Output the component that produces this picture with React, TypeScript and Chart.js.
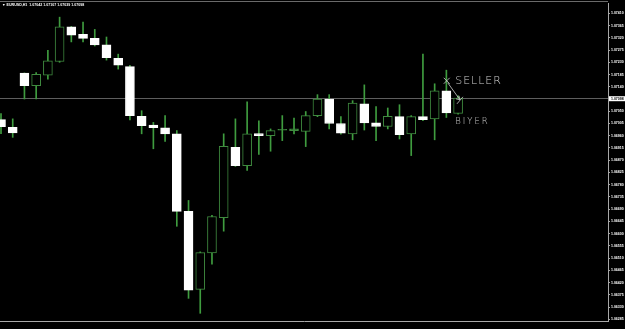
import React, { useEffect, useRef } from "react";
import { Chart, registerables } from "chart.js";

Chart.register(...registerables);

const symbolTitle = "EURUSD,H1";

// Hourly bars: 27 Jan 22:00 ... 31 Jan 13:00 (2017)
const opens = [
  1.07019, 1.06991, 1.0719, 1.07144, 1.07183, 1.07233, 1.0736, 1.07333, 1.07318, 1.07294,
  1.07245, 1.07214, 1.07031, 1.06999, 1.06989, 1.06967, 1.06682, 1.06395, 1.06529, 1.06659,
  1.06917, 1.0685, 1.06968, 1.0696, 1.0698, 1.06979, 1.06976, 1.07034, 1.07095, 1.07005,
  1.06967, 1.07077, 1.07007, 1.06994, 1.0703, 1.06967, 1.0703, 1.07022, 1.07125, 1.07042,
];
const highs = [
  1.07041, 1.07022, 1.07191, 1.07192, 1.07274, 1.07396, 1.07362, 1.07378, 1.07351, 1.07323,
  1.0726, 1.07219, 1.07052, 1.07009, 1.07034, 1.06979, 1.06722, 1.06533, 1.06667, 1.06967,
  1.07022, 1.07085, 1.07015, 1.06985, 1.07034, 1.07025, 1.07049, 1.07111, 1.07111, 1.0703,
  1.07089, 1.07147, 1.07067, 1.07062, 1.07074, 1.07034, 1.0726, 1.07151, 1.07201, 1.07107,
];
const lows = [
  1.06968, 1.06954, 1.07095, 1.07095, 1.07168, 1.0723, 1.07305, 1.07305, 1.0729, 1.07238,
  1.07205, 1.07018, 1.06967, 1.06912, 1.06939, 1.06627, 1.06362, 1.06307, 1.06488, 1.06609,
  1.06847, 1.06832, 1.06891, 1.06903, 1.06942, 1.06967, 1.0692, 1.0703, 1.06985, 1.06966,
  1.06945, 1.06981, 1.06942, 1.06985, 1.06948, 1.06887, 1.07015, 1.06945, 1.07027, 1.07039,
];
const closes = [
  1.06993, 1.0697, 1.07144, 1.07186, 1.07235, 1.0736, 1.0733, 1.07318, 1.07294, 1.07247,
  1.07219, 1.07034, 1.06997, 1.0699, 1.06967, 1.06682, 1.06392, 1.0653, 1.06663, 1.06921,
  1.0685, 1.06967, 1.0696, 1.06979, 1.06981, 1.06985, 1.07034, 1.07095, 1.07005, 1.06969,
  1.0708, 1.07007, 1.06994, 1.07031, 1.06964, 1.0703, 1.07019, 1.07125, 1.07044, 1.07098,
];

// one label every two bars, starting at the first bar
const xTickLabels = [
  "27 Jan 2017", "30 Jan 00:00", "30 Jan 02:00", "30 Jan 04:00", "30 Jan 06:00",
  "30 Jan 08:00", "30 Jan 10:00", "30 Jan 12:00", "30 Jan 14:00", "30 Jan 16:00",
  "30 Jan 18:00", "30 Jan 20:00", "30 Jan 22:00", "31 Jan 00:00", "31 Jan 02:00",
  "31 Jan 04:00", "31 Jan 06:00", "31 Jan 08:00", "31 Jan 10:00", "31 Jan 12:00",
];

const yTickLabels = [
  "1.07410", "1.07365", "1.07320", "1.07275", "1.07230", "1.07185", "1.07140", "1.07095",
  "1.07050", "1.07005", "1.06960", "1.06915", "1.06870", "1.06825", "1.06780", "1.06735",
  "1.06690", "1.06645", "1.06600", "1.06555", "1.06510", "1.06465", "1.06420", "1.06375",
  "1.06330", "1.06285",
];

const WICK = "#3f9c3f";
const BULL_EDGE = "#3f8a3f";
const AXIS = "#a8a8a8";
const TEXT = "#ffffff";

export default function App() {
  const ref = useRef<HTMLCanvasElement | null>(null);

  useEffect(() => {
    if (!ref.current) return;
    const n = opens.length;
    const last = n - 1;
    const bid = closes[last];
    const header =
      "\u25BC " + symbolTitle + "  " +
      [opens[last], highs[last], lows[last], closes[last]].map((v) => v.toFixed(5)).join(" ");

    const isBull = (i: number) => closes[i] >= opens[i];
    const bodyFill = opens.map((o, i) =>
      isBull(i) ? (Math.abs(closes[i] - o) < 0.00008 ? BULL_EDGE : "#000000") : "#ffffff"
    );
    const bodyEdge = opens.map((_, i) => (isBull(i) ? BULL_EDGE : "#ffffff"));

    const decor = {
      id: "mt4decor",
      beforeDraw(chart: any) {
        const c = chart.ctx;
        c.save();
        c.fillStyle = "#000000";
        c.fillRect(0, 0, chart.width, chart.height);
        c.restore();
      },
      beforeDatasetsDraw(chart: any) {
        const c = chart.ctx;
        const a = chart.chartArea;
        const y = Math.round(chart.scales.y.getPixelForValue(bid)) + 0.5;
        c.save();
        c.strokeStyle = "#5e5e5e";
        c.lineWidth = 1;
        c.beginPath();
        c.moveTo(a.left, y);
        c.lineTo(a.right, y);
        c.stroke();
        c.restore();
      },
      afterDraw(chart: any) {
        const c = chart.ctx;
        const a = chart.chartArea;
        const xs = chart.scales.x;
        const ys = chart.scales.y;
        c.save();
        // top frame
        c.strokeStyle = "#6a6a6a";
        c.lineWidth = 1;
        c.beginPath();
        c.moveTo(a.left, 1.5);
        c.lineTo(a.right, 1.5);
        c.stroke();
        // header
        c.fillStyle = TEXT;
        c.font = "bold 3.6px 'Liberation Sans'";
        c.textBaseline = "middle";
        c.textAlign = "left";
        c.fillText(header, 2, 5);
        // bid label
        const by = ys.getPixelForValue(bid);
        c.fillStyle = "#ffffff";
        c.fillRect(a.right + 1, by - 2, chart.width - a.right - 1, 5);
        c.fillStyle = "#000000";
        c.font = "bold 3.5px 'Liberation Sans'";
        c.fillText(bid.toFixed(5), a.right + 3, by + 0.5);
        // hand-drawn annotations
        c.strokeStyle = "#cfcfcf";
        c.fillStyle = "#cfcfcf";
        c.lineWidth = 0.8;
        const mx = xs.getPixelForValue(38.03);
        const my = ys.getPixelForValue(1.07162);
        c.beginPath();
        c.moveTo(mx - 3, my - 3);
        c.lineTo(mx + 3, my + 3);
        c.moveTo(mx + 3, my - 3);
        c.lineTo(mx - 3, my + 3);
        c.stroke();
        const ex = xs.getPixelForValue(39.16);
        const ey = ys.getPixelForValue(1.07092);
        c.beginPath();
        c.moveTo(mx + 1, my + 2);
        c.lineTo(ex, ey);
        c.moveTo(ex, ey);
        c.lineTo(ex - 4, ey - 1);
        c.moveTo(ex, ey);
        c.lineTo(ex - 1, ey - 4);
        c.moveTo(ex - 3, ey + 4);
        c.lineTo(ex + 3, ey - 3);
        c.stroke();
        c.textBaseline = "alphabetic";
        (c as any).letterSpacing = "1px";
        c.font = "200 11px 'DejaVu Sans'";
        c.fillText("SELLER", xs.getPixelForValue(38.75), ys.getPixelForValue(1.07151));
        (c as any).letterSpacing = "2px";
        c.font = "200 8.5px 'DejaVu Sans'";
        c.fillText("BIYER", xs.getPixelForValue(38.75), ys.getPixelForValue(1.07004));
        (c as any).letterSpacing = "0px";
        c.restore();
      },
    };

    const chart = new Chart(ref.current, {
      type: "bar",
      data: {
        datasets: [
          {
            label: "body",
            data: opens.map((o, i) => ({ x: i, y: [o, closes[i]] })) as any,
            backgroundColor: bodyFill,
            borderColor: bodyEdge,
            borderWidth: 1,
            borderSkipped: false,
            barThickness: 9,
            minBarLength: 1,
            grouped: false,
            order: 0,
          } as any,
          {
            label: "wick",
            data: opens.map((_, i) => ({ x: i, y: [lows[i], highs[i]] })) as any,
            backgroundColor: WICK,
            borderWidth: 0,
            barThickness: 1,
            grouped: false,
            order: 1,
          } as any,
        ],
      },
      plugins: [decor],
      options: {
        animation: false,
        responsive: false,
        devicePixelRatio: 1,
        layout: { padding: { top: 2, left: 0, right: 0, bottom: 0 } },
        plugins: {
          legend: { display: false },
          tooltip: { enabled: false },
        },
        scales: {
          x: {
            type: "linear",
            offset: false,
            min: -0.085,
            max: 51.79,
            grid: { display: false, offset: false },
            border: { display: true, color: AXIS },
            afterBuildTicks: (scale: any) => {
              scale.ticks = xTickLabels.map((_, k) => ({ value: k * 2 }));
            },
            afterFit: (scale: any) => {
              scale.height = 8;
            },
            ticks: {
              autoSkip: false,
              maxRotation: 0,
              minRotation: 0,
              align: "start",
              padding: 1,
              color: TEXT,
              font: { size: 3, weight: "bold", family: "'Liberation Sans'" },
              callback: (_v: any, i: number) => xTickLabels[i],
            },
          } as any,
          y: {
            type: "linear",
            position: "right",
            min: 1.062787,
            max: 1.074477,
            grid: { drawOnChartArea: false, drawTicks: true, tickLength: 2, color: AXIS },
            border: { display: true, color: AXIS },
            afterBuildTicks: (scale: any) => {
              scale.ticks = yTickLabels.map((s) => ({ value: parseFloat(s) }));
            },
            afterFit: (scale: any) => {
              scale.width = 17;
            },
            ticks: {
              autoSkip: false,
              padding: 1,
              color: TEXT,
              font: { size: 3.5, weight: "bold", family: "'Liberation Sans'" },
              callback: (_v: any, i: number) => yTickLabels[i],
            },
          } as any,
        },
      },
    });
    return () => chart.destroy();
  }, []);

  return (
    <div
      style={{
        position: "fixed",
        left: 0,
        top: 0,
        width: 625,
        height: 329,
        background: "#000",
      }}
    >
      <canvas ref={ref} width={625} height={329} style={{ display: "block" }} />
    </div>
  );
}
